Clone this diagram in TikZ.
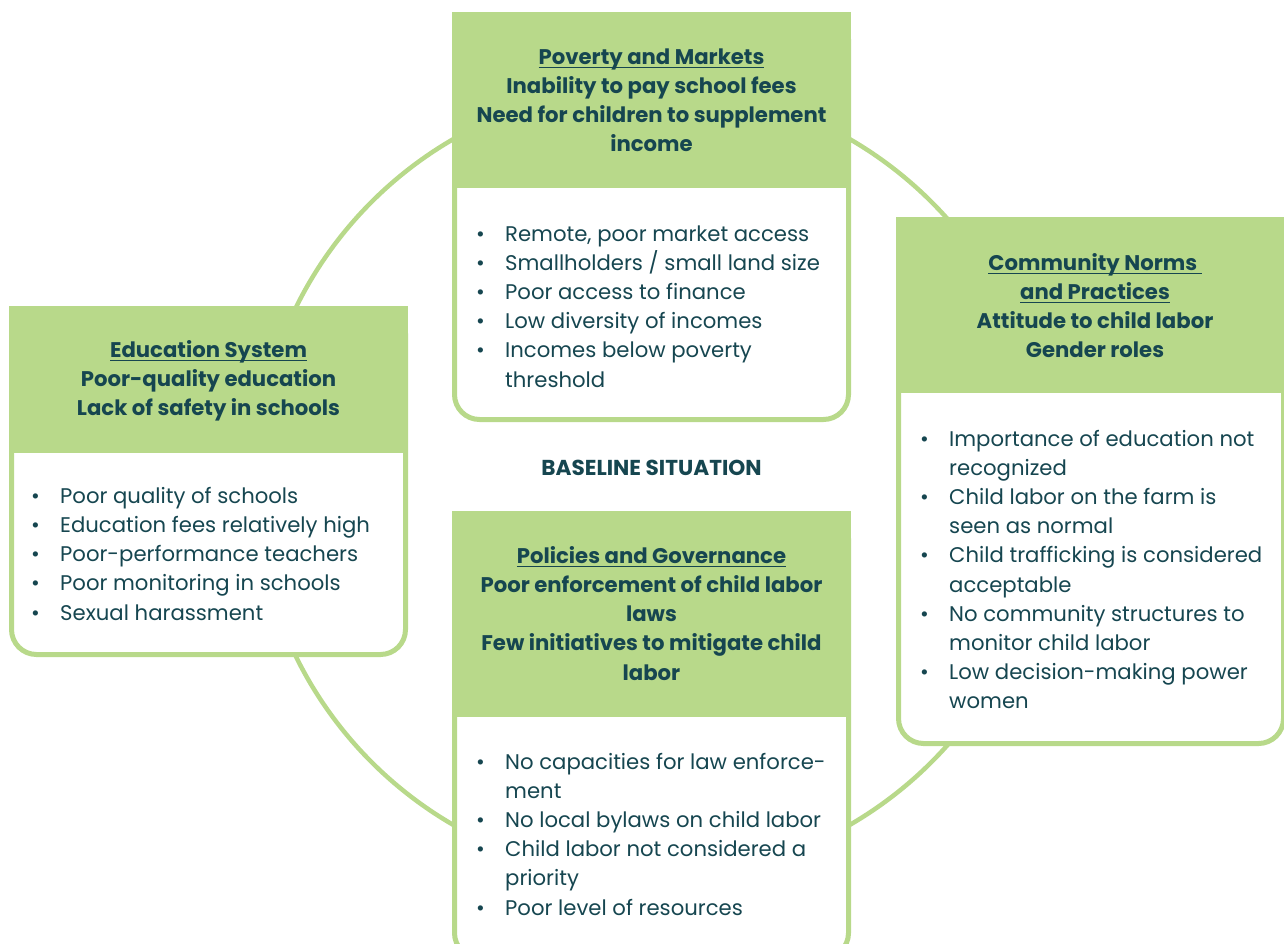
\documentclass[tikz,border=0pt]{standalone}
\usepackage{fontspec}
\setmainfont{Poppins}
\definecolor{leaf}{HTML}{B8D98A}
\definecolor{ink}{HTML}{164650}
\newcommand\hdul[1]{\setbox0\hbox{#1}\rlap{\rule[-4pt]{\wd0}{1.3pt}}\box0}
\newcommand\bl{\makebox[29pt][l]{\textbullet}}
\newcommand\cn{\hspace*{29pt}}
\tikzset{
  ring/.style={draw=leaf, line width=4.5pt},
  boxbody/.style={draw=leaf, fill=white, line width=5pt, rounded corners=25pt},
  boxhead/.style={fill=leaf},
  hdtxt/.style={font=\bfseries\fontsize{21.2}{29.2}\selectfont, text=ink, align=center, inner sep=0pt, anchor=base},
  bdtxt/.style={font=\fontsize{21.2}{29.2}\selectfont, text=ink, align=left, inner sep=0pt, anchor=base west},
}
\begin{document}
\begin{tikzpicture}[x=1pt,y=-1pt]
\useasboundingbox (0,0) rectangle (1284,943);
\begin{scope}
\clip (0,0) rectangle (1284,943);
\draw[ring] (651.5,482) circle (396);
% top box
\draw[boxbody] (454.5,14.5) rectangle (848.5,419.5);
\fill[boxhead] (452,12) rectangle (851,188);
% left box
\draw[boxbody] (11.5,308.5) rectangle (405.5,654.5);
\fill[boxhead] (9,306) rectangle (408,452.5);
% community box
\draw[boxbody] (898.5,219.5) rectangle (1283.5,743.5);
\fill[boxhead] (896,217) rectangle (1290,393);
% policies box
\draw[boxbody] (454.5,513.5) rectangle (848.5,958);
\fill[boxhead] (452,511) rectangle (851,717);
\end{scope}

% base anchor = baseline of the last line
\node[hdtxt] (povh) at (651.5,151.9) {\hdul{Poverty and Markets}\\Inability to pay school fees\\Need for children to supplement\\income};
\node[bdtxt] (povb) at (476,387) {\bl Remote, poor market access\\\bl Smallholders / small land size\\\bl Poor access to finance\\\bl Low diversity of incomes\\\bl Incomes below poverty\\\cn threshold};

\node[hdtxt] (eduh) at (208.5,415.7) {\hdul{Education System}\\Poor-quality education\\Lack of safety in schools};
\node[bdtxt] (edub) at (31,620.1) {\bl Poor quality of schools\\\bl Education fees relatively high\\\bl Poor-performance teachers\\\bl Poor monitoring in schools\\\bl Sexual harassment};

\node[hdtxt] (comh) at (1095,357.6) {\hdul{Community Norms\ }\\\hdul{and Practices}\\Attitude to child labor\\Gender roles};
\node[bdtxt] (comb) at (920,708.8) {\bl Importance of education not\\\cn recognized\\\bl Child labor on the farm is\\\cn seen as normal\\\bl Child trafficking is considered\\\cn acceptable\\\bl No community structures to\\\cn monitor child labor\\\bl Low decision-making power\\\cn women};

\node[hdtxt] (polh) at (651.5,680.1) {\hdul{Policies and Governance}\\Poor enforcement of child labor\\laws\\Few initiatives to mitigate child\\labor};
\node[bdtxt] (polb) at (476,915) {\bl No capacities for law enforce-\\\cn ment\\\bl No local bylaws on child labor\\\bl Child labor not considered a\\\cn priority\\\bl Poor level of resources};

\node[font=\bfseries\fontsize{21.6}{24}\selectfont, text=ink, inner sep=0pt, anchor=base] (base) at (651.5,475.7) {BASELINE SITUATION};
\end{tikzpicture}
\end{document}
